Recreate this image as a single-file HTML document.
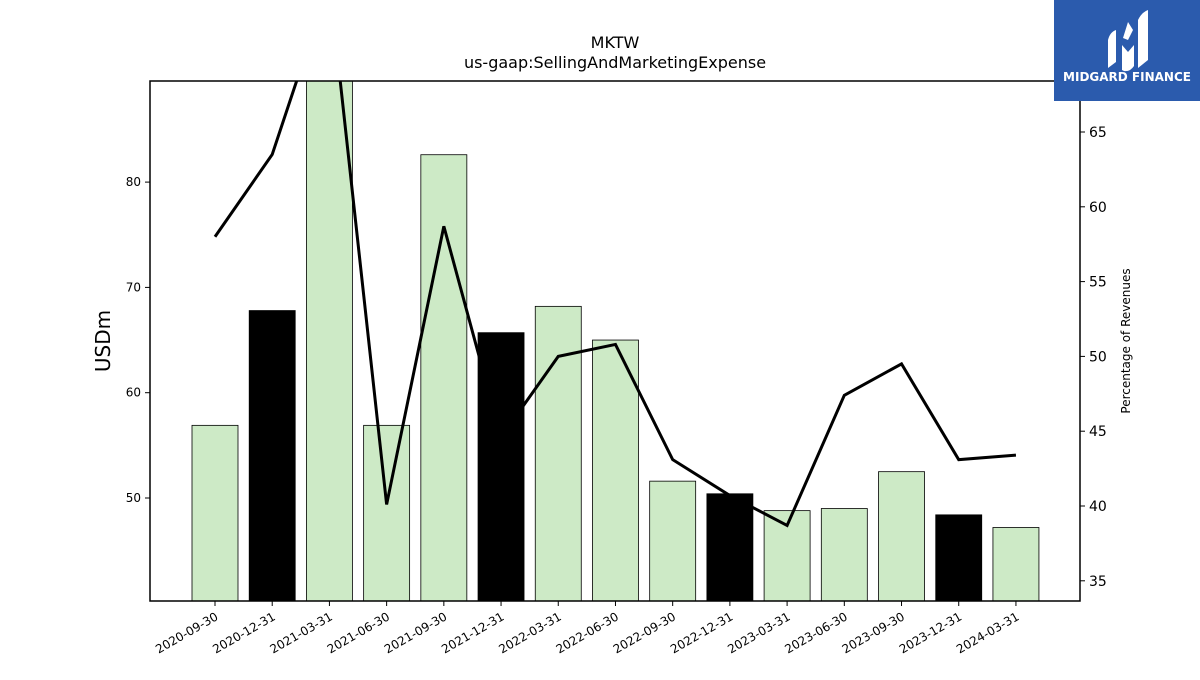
<!DOCTYPE html>
<html><head><meta charset="utf-8"><style>
body{margin:0;background:#fff;}
svg text{font-family:"DejaVu Sans","Liberation Sans",sans-serif;}
</style></head><body>
<svg id="c" width="1200" height="675" xmlns="http://www.w3.org/2000/svg">
<text x="615" y="48" text-anchor="middle" font-size="16">MKTW</text>
<text x="615" y="68" text-anchor="middle" font-size="16">us-gaap:SellingAndMarketingExpense</text>
<g id="bars"></g>
<g id="line"></g>
<rect x="150" y="81" width="930" height="520" fill="none" stroke="#000" stroke-width="1.5"/>
<g id="axes"></g>
<text transform="translate(110,341) rotate(-90)" text-anchor="middle" font-size="20">USDm</text>
<text transform="translate(1130,341) rotate(-90)" text-anchor="middle" font-size="12">Percentage of Revenues</text>
<g>
<rect x="1054" y="0" width="146" height="101" fill="#2b5bad"/>
<path d="M1108 68 L1108 40 Q1110 32 1116 30 L1116 62 Z M1122 70 L1122 45 L1128 52 L1134 45 L1134 66 Q1130 72 1124 71 Z M1138 68 L1138 20 Q1142 12 1148 10 L1148 60 Z M1123 38 L1128 22 L1133 30 L1128 40 Z" fill="#fff"/>
<text x="1127" y="81" text-anchor="middle" font-size="12" font-weight="bold" fill="#fff">MIDGARD FINANCE</text>
</g>
</svg>
<script>
const categories=["2020-09-30","2020-12-31","2021-03-31","2021-06-30","2021-09-30","2021-12-31","2022-03-31","2022-06-30","2022-09-30","2022-12-31","2023-03-31","2023-06-30","2023-09-30","2023-12-31","2024-03-31"];
const barValues=[56.9,67.8,95,56.9,82.6,65.7,68.2,65.0,51.6,50.4,48.8,49.0,52.5,48.4,47.2];
const isQ4=[0,1,0,0,0,1,0,0,0,1,0,0,0,1,0];
const pctValues=[58.0,63.5,75,40.1,58.7,44.6,50.0,50.8,43.1,40.7,38.7,47.4,49.5,43.1,43.4];
const leftTicks=[50,60,70,80];
const rightTicks=[35,40,45,50,55,60,65];
const NS="http://www.w3.org/2000/svg";
const L=150,R=1080,T=81,B=601;
const yL=v=>498-(v-50)*10.53;
const yR=v=>132-(v-65)*14.96;
const xC=i=>215+i*57.21;
function mk(tag,attrs,parent){const e=document.createElementNS(NS,tag);for(const k in attrs)e.setAttribute(k,attrs[k]);parent.appendChild(e);return e;}
const cl=mk("clipPath",{id:"pc"},document.getElementById("c"));
mk("rect",{x:L,y:T,width:R-L,height:B-T},cl);
const bars=document.getElementById("bars");bars.setAttribute("clip-path","url(#pc)");
barValues.forEach((v,i)=>{const y=yL(v);
const r=mk("rect",{x:xC(i)-23,y:y,width:46,height:B-y,fill:isQ4[i]?"#000":"#cdeac6",stroke:"#000","stroke-width":0.8},bars);

});
const lg=document.getElementById("line");lg.setAttribute("clip-path","url(#pc)");
const p=mk("polyline",{points:pctValues.map((v,i)=>xC(i)+","+yR(v)).join(" "),fill:"none",stroke:"#000","stroke-width":3,"stroke-linejoin":"miter"},lg);


const ax=document.getElementById("axes");
leftTicks.forEach(t=>{const y=yL(t);mk("line",{x1:L-5,x2:L,y1:y,y2:y,stroke:"#000"},ax);
const tx=mk("text",{x:L-9,y:y+4,"text-anchor":"end","font-size":12},ax);tx.textContent=t;

});
rightTicks.forEach(t=>{const y=yR(t);mk("line",{x1:R,x2:R+5,y1:y,y2:y,stroke:"#000"},ax);
const tx=mk("text",{x:R+9,y:y+5,"font-size":14},ax);tx.textContent=t;

});
categories.forEach((c,i)=>{const x=xC(i);mk("line",{x1:x,x2:x,y1:B,y2:B+5,stroke:"#000"},ax);
const tx=mk("text",{transform:"translate("+(x+4)+","+(B+18)+") rotate(-30)","text-anchor":"end","font-size":12},ax);tx.textContent=c;

});
</script>
</body></html>
